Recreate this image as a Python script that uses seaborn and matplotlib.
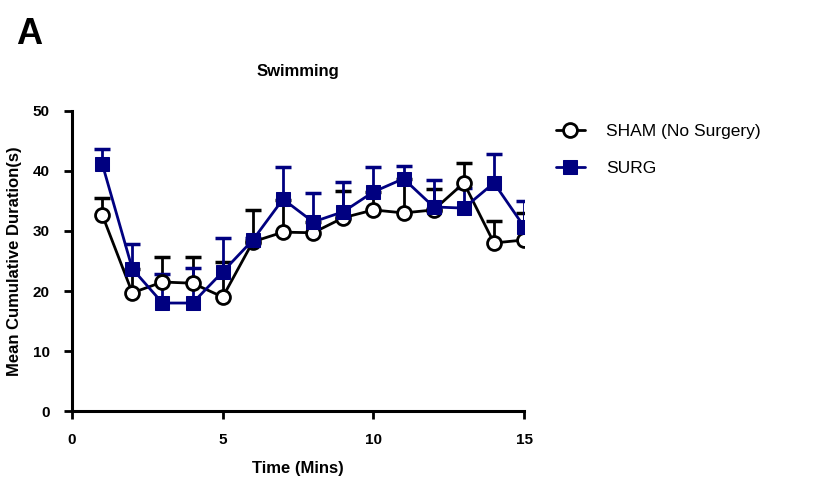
import numpy as np
import pandas as pd
import matplotlib
matplotlib.use("Agg")
import matplotlib.pyplot as plt
import seaborn as sns

# Data (mean + upper SEM)
minutes = [1, 2, 3, 4, 5, 6, 7, 8, 9, 10, 11, 12, 13, 14, 15]
sham_mean = [32.7, 19.7, 21.5, 21.3, 19.0, 28.2, 29.8, 29.7, 32.2, 33.5, 33.0, 33.5, 38.0, 28.0, 28.5]
sham_err = [2.8, 3.9, 4.2, 4.4, 5.8, 5.3, 5.4, 1.8, 4.5, 3.0, 5.6, 3.5, 3.3, 3.7, 4.5]
surg_mean = [41.2, 23.7, 18.0, 18.0, 23.2, 28.5, 35.3, 31.5, 33.2, 36.5, 38.7, 34.0, 33.8, 38.0, 30.7]
surg_err = [2.5, 4.1, 4.8, 5.8, 5.6, 0.4, 5.4, 4.8, 5.0, 4.2, 2.1, 4.5, 3.4, 4.8, 4.3]

sham_label = "SHAM (No Surgery)"
surg_label = "SURG"
navy = "#000080"

df = pd.DataFrame({
    "time": minutes * 2,
    "value": sham_mean + surg_mean,
    "err": sham_err + surg_err,
    "group": [sham_label] * len(minutes) + [surg_label] * len(minutes),
})

sns.set_style("ticks", {"axes.edgecolor": "black", "text.color": "black",
                        "axes.labelcolor": "black", "xtick.color": "black",
                        "ytick.color": "black"})
plt.rcParams["font.family"] = ["Liberation Sans", "DejaVu Sans"]
plt.rcParams["font.weight"] = "bold"

fig = plt.figure(figsize=(8.28, 4.86), dpi=100)
ax = fig.add_axes([0.087, 0.154, 0.546, 0.618])

# one-sided (upper) error bars, drawn under the markers
for grp, col in [(sham_label, "black"), (surg_label, navy)]:
    sub = df[df["group"] == grp]
    eb = ax.errorbar(sub["time"], sub["value"], yerr=[np.zeros(len(sub)), sub["err"]],
                     fmt="none", ecolor=col, elinewidth=2, capsize=6, capthick=2.5, zorder=2)
    eb[1][0].set_visible(False)  # drop the lower cap

sns.lineplot(data=df, x="time", y="value", hue="group", style="group",
             palette={sham_label: "black", surg_label: navy},
             markers={sham_label: "o", surg_label: "s"}, dashes=False,
             linewidth=2, markersize=10, ax=ax, zorder=3)

# open circles for SHAM
for line in ax.lines:
    if line.get_marker() == "o":
        line.set_markerfacecolor("white")
        line.set_markeredgecolor("black")
        line.set_markeredgewidth(2)
    elif line.get_marker() == "s":
        line.set_markeredgecolor(navy)
        line.set_markersize(10.5)

ax.set_xlim(0, 15)
ax.set_ylim(0, 50)
ax.set_xticks([0, 5, 10, 15])
ax.set_yticks([0, 10, 20, 30, 40, 50])
ax.tick_params(which="major", width=2, length=6, labelsize=11, pad=10, colors="black")
for lab in ax.get_xticklabels() + ax.get_yticklabels():
    lab.set_fontweight("bold")
for s in ["left", "bottom"]:
    ax.spines[s].set_linewidth(2.2)
    ax.spines[s].set_color("black")
sns.despine(ax=ax)

ax.set_xlabel("Time (Mins)", fontsize=12, fontweight="bold", labelpad=10)
ax.set_ylabel("Mean Cumulative Duration(s)", fontsize=12, fontweight="bold", labelpad=8)
ax.set_title("Swimming", fontsize=12, fontweight="bold", pad=25)

h, l = ax.get_legend_handles_labels()
leg = ax.legend(h, l, loc="upper left", bbox_to_anchor=(1.035, 1.01), frameon=False,
                fontsize=12.5, handlelength=1.7, handletextpad=1.2, labelspacing=1.3)
for t in leg.get_texts():
    t.set_fontweight("normal")

fig.text(0.02, 0.91, "A", fontsize=26, fontweight="bold", color="black")

fig.savefig("out.png", dpi=100)
